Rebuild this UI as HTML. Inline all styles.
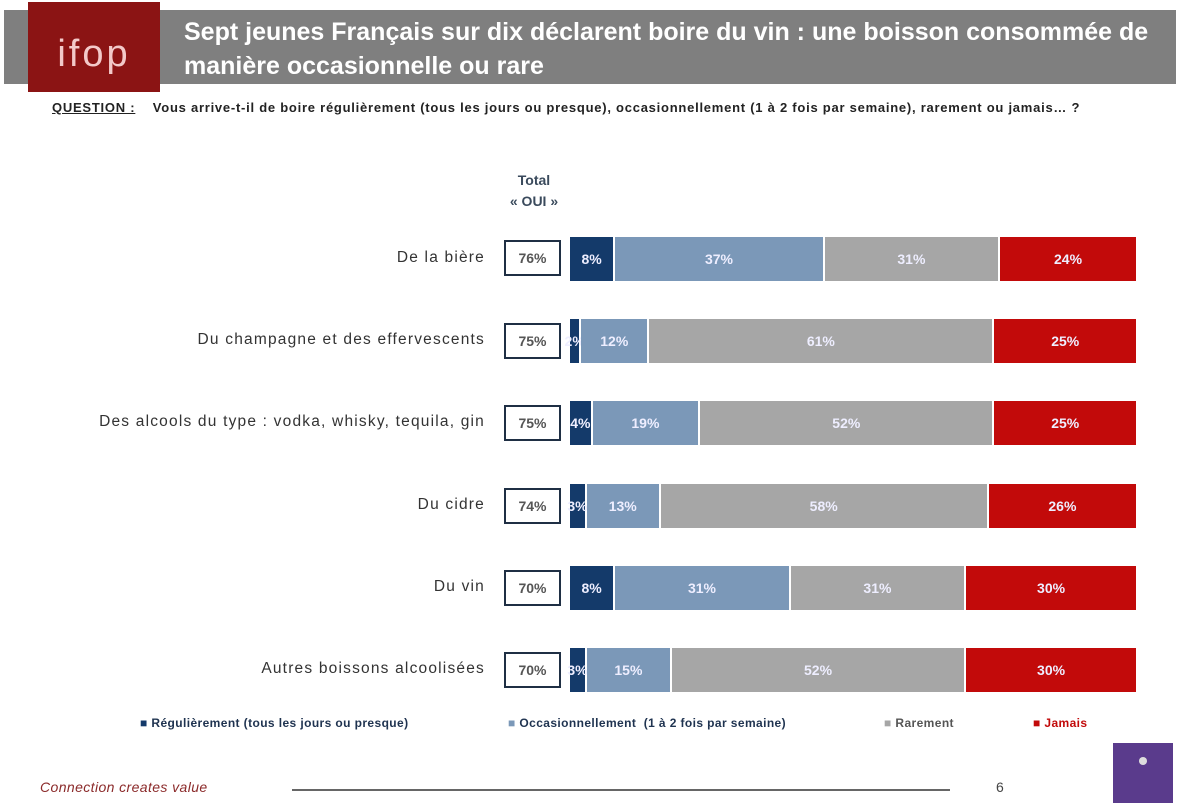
<!DOCTYPE html>
<html><head><meta charset="utf-8"><style>
*{margin:0;padding:0;box-sizing:border-box}
body{width:1181px;height:810px;background:#fff;position:relative;overflow:hidden;font-family:"Liberation Sans",sans-serif}
.abs{position:absolute}
.hdr{left:4px;top:10px;width:1172px;height:74px;background:#7f7f7f}
.logo{left:28px;top:2px;width:132px;height:90px;background:#8b1414;color:#f3c9c9;font-size:38px;text-align:center;line-height:104px;letter-spacing:3px;font-weight:300}
.title{left:184px;top:15px;color:#fff;font-weight:bold;font-size:25px;line-height:34px;width:1000px;white-space:nowrap}
.q{left:52px;top:100px;font-size:13px;font-weight:bold;color:#222;letter-spacing:0.75px;white-space:nowrap}
.lab{right:696px;width:480px;text-align:right;font-size:15.5px;color:#333;letter-spacing:1.2px;white-space:nowrap}
.box{left:504px;width:57px;height:36px;border:2px solid #1f2f44;font-size:14px;font-weight:bold;color:#555;text-align:center;line-height:32px}
.bar{left:570px;width:566px;height:44px;display:flex}
.bar div{height:44px;color:#eef;font-weight:bold;font-size:14px;display:flex;align-items:center;justify-content:center;overflow:visible;white-space:nowrap;border-right:2px solid #fff}
.bar div:last-child{border-right:none}
.n{background:#143a6a}.l{background:#7b98b8}.g{background:#a6a6a6}.r{background:#c20a0a}
.lg{top:716px;font-size:12px;font-weight:bold;letter-spacing:0.4px;white-space:nowrap}
</style></head><body>
<div class="abs hdr"></div>
<div class="abs logo">ifop</div>
<div class="abs title">Sept jeunes Français sur dix déclarent boire du vin : une boisson consommée de<br>manière occasionnelle ou rare</div>
<div class="abs q"><span style="text-decoration:underline">QUESTION :</span>&nbsp;&nbsp;&nbsp;&nbsp;Vous arrive-t-il de boire régulièrement (tous les jours ou presque), occasionnellement (1 à 2 fois par semaine), rarement ou jamais… ?</div>
<div class="abs" style="left:496px;top:170px;width:76px;text-align:center;font-size:14px;font-weight:bold;color:#3a4a5c;line-height:21px">Total<br>« OUI »</div>

<div class="abs lab" style="top:249px">De la bière</div>
<div class="abs box" style="top:240px">76%</div>
<div class="abs bar" style="top:237px"><div class="n" style="width:8%">8%</div><div class="l" style="width:37%">37%</div><div class="g" style="width:31%">31%</div><div class="r" style="width:24%">24%</div></div>

<div class="abs lab" style="top:331px">Du champagne et des effervescents</div>
<div class="abs box" style="top:323px">75%</div>
<div class="abs bar" style="top:319px"><div class="n" style="width:2%">2%</div><div class="l" style="width:12%">12%</div><div class="g" style="width:61%">61%</div><div class="r" style="width:25%">25%</div></div>

<div class="abs lab" style="top:413px">Des alcools du type : vodka, whisky, tequila, gin</div>
<div class="abs box" style="top:405px">75%</div>
<div class="abs bar" style="top:401px"><div class="n" style="width:4%">4%</div><div class="l" style="width:19%">19%</div><div class="g" style="width:52%">52%</div><div class="r" style="width:25%">25%</div></div>

<div class="abs lab" style="top:496px">Du cidre</div>
<div class="abs box" style="top:488px">74%</div>
<div class="abs bar" style="top:484px"><div class="n" style="width:3%">3%</div><div class="l" style="width:13%">13%</div><div class="g" style="width:58%">58%</div><div class="r" style="width:26%">26%</div></div>

<div class="abs lab" style="top:578px">Du vin</div>
<div class="abs box" style="top:570px">70%</div>
<div class="abs bar" style="top:566px"><div class="n" style="width:8%">8%</div><div class="l" style="width:31%">31%</div><div class="g" style="width:31%">31%</div><div class="r" style="width:30%">30%</div></div>

<div class="abs lab" style="top:660px">Autres boissons alcoolisées</div>
<div class="abs box" style="top:652px">70%</div>
<div class="abs bar" style="top:648px"><div class="n" style="width:3%">3%</div><div class="l" style="width:15%">15%</div><div class="g" style="width:52%">52%</div><div class="r" style="width:30%">30%</div></div>

<div class="abs lg" style="left:140px;color:#1f3350"><span style="color:#143a6a">■</span> Régulièrement (tous les jours ou presque)</div>
<div class="abs lg" style="left:508px;color:#1f3350"><span style="color:#7b98b8">■</span> Occasionnellement &nbsp;(1 à 2 fois par semaine)</div>
<div class="abs lg" style="left:884px;color:#555"><span style="color:#a6a6a6">■</span> Rarement</div>
<div class="abs lg" style="left:1033px;color:#c20a0a">■ Jamais</div>

<div class="abs" style="left:40px;top:779px;font-size:14px;font-style:italic;color:#8b2a2a;letter-spacing:0.4px">Connection creates value</div>
<div class="abs" style="left:292px;top:789px;width:658px;height:2px;background:#666"></div>
<div class="abs" style="left:996px;top:779px;font-size:14px;color:#444">6</div>
<div class="abs" style="left:1113px;top:743px;width:60px;height:60px;background:#5a3b8c"></div>
<div class="abs" style="left:1139px;top:757px;width:8px;height:8px;border-radius:50%;background:#ddd"></div>
</body></html>
